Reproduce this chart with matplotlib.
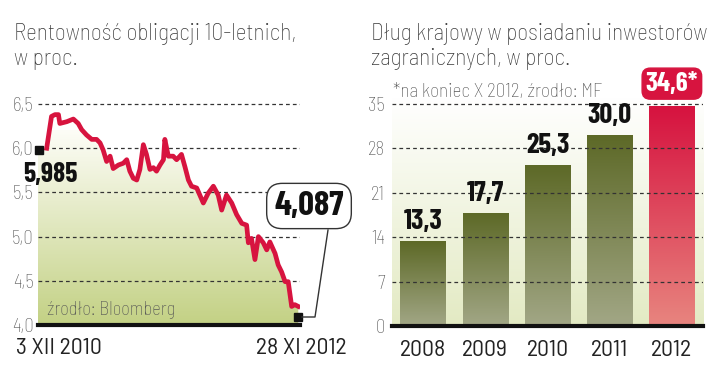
import numpy as np
import pandas as pd
import matplotlib
matplotlib.use("Agg")
import matplotlib.pyplot as plt
from matplotlib.colors import LinearSegmentedColormap

COND = ['Barlow Semi Condensed', 'Roboto', 'DejaVu Sans']
BOLD = ['Barlow Condensed', 'Roboto', 'DejaVu Sans']
plt.rcParams['font.family'] = COND

# --- lewy wykres: rentowność obligacji 10-letnich ---
start = pd.Timestamp('2010-12-03')
day_offsets = [0, 14, 24, 34, 38, 58, 77, 91, 101, 115, 130, 144, 154, 163, 173,
               183, 192, 207, 221, 231, 240, 250, 260, 269, 279, 288, 298, 308,
               317, 327, 337, 341, 351, 365, 375, 389, 399, 409, 418, 433, 452,
               466, 481, 495, 505, 519, 534, 548, 563, 577, 582, 591, 601, 611,
               625, 635, 644, 659, 668, 678, 688, 697, 707, 716, 726]
yields = [6.00, 6.36, 6.38, 6.38, 6.28, 6.30, 6.33, 6.28, 6.21, 6.15, 6.10, 6.10,
          6.06, 5.98, 5.85, 5.91, 5.77, 5.81, 5.83, 5.87, 5.74, 5.66, 5.64, 5.76,
          6.04, 5.93, 5.76, 5.78, 5.74, 5.81, 5.87, 6.10, 5.91, 5.91, 5.87, 5.93,
          5.79, 5.64, 5.57, 5.55, 5.38, 5.49, 5.57, 5.47, 5.30, 5.47, 5.38, 5.25,
          5.15, 5.13, 4.93, 4.98, 4.74, 5.00, 4.93, 4.85, 4.94, 4.81, 4.68, 4.60,
          4.49, 4.49, 4.21, 4.23, 4.21]
first_value = 5.985
last_value = 4.087
dates = start + pd.to_timedelta(day_offsets, unit='D')
yield_ticks = [4.0, 4.5, 5.0, 5.5, 6.0, 6.5]

# --- prawy wykres: dług w posiadaniu inwestorów zagranicznych ---
years = ['2008', '2009', '2010', '2011', '2012']
debt_share = [13.3, 17.7, 25.3, 30.0, 34.6]
debt_ticks = [0, 7, 14, 21, 28, 35]

RED = '#d7143f'
GRAY = '#555555'
W, H = 720, 386

fig = plt.figure(figsize=(7.2, 3.86), dpi=100)


def ax_rect(x0, x1, ytop, ybot):
    return [x0 / W, 1 - ybot / H, (x1 - x0) / W, (ybot - ytop) / H]


def vgrad(top, bottom):
    return LinearSegmentedColormap.from_list('g', [bottom, top])


def pl(v, fmt):
    return format(v, fmt).replace('.', ',')


def px_text(x, y, s, **kw):
    return fig.text(x / W, 1 - y / H, s, **kw)


grad = np.linspace(0, 1, 256).reshape(-1, 1)

# ----- lewy -----
ax1 = fig.add_axes(ax_rect(38, 300, 99.6, 325))
ax1.set_ylim(4.0, 6.55)
xl = (start - pd.Timedelta(days=25), start + pd.Timedelta(days=731))
ax1.set_xlim(xl)
for s in ax1.spines.values():
    s.set_visible(False)

fill_x = [xl[0]] + list(dates)
fill_y = [first_value] + yields
poly = ax1.fill_between(fill_x, fill_y, 4.0, color='none', lw=0)
im = ax1.imshow(grad, aspect='auto', cmap=vgrad('#fdfdf7', '#c3d184'),
                origin='lower', extent=[*map(matplotlib.dates.date2num, xl), 4.0, 6.2],
                zorder=0)
im.set_clip_path(poly.get_paths()[0], transform=ax1.transData)

for t in yield_ticks[1:]:
    ax1.axhline(t, color='#333333', lw=0.9, ls=(0, (3, 2.5)), zorder=1)
ax1.axhline(4.0, color='#111111', lw=3, zorder=3, clip_on=False)
ax1.set_yticks(yield_ticks)
ax1.set_yticklabels([pl(t, '.1f') for t in yield_ticks], fontsize=13.5,
                    color=GRAY, fontweight='light')
ax1.tick_params(axis='y', length=0, pad=3)
ax1.set_xticks([])

ax1.plot(dates, yields, color=RED, lw=3.4, solid_joinstyle='round', zorder=4)
ax1.plot([xl[0] + pd.Timedelta(days=3)], [first_value], marker='s', ms=5.5,
         color='#111111', clip_on=False, zorder=5)
ax1.plot([dates[-1]], [last_value], marker='s', ms=5.5, color='#111111',
         clip_on=False, zorder=5)
ax1.text(-0.058, 0.668, pl(first_value, '.3f'), transform=ax1.transAxes,
         fontsize=20, fontweight='bold', family=BOLD, color='#111111',
         ha='left', va='center')
ax1.text(0.035, 0.065, 'źrodło: Bloomberg', transform=ax1.transAxes,
         fontsize=13.4, color=GRAY, fontweight='light', ha='left', va='center')

# ramka z ostatnią wartością
px_text(309, 206, pl(last_value, '.3f'), fontsize=25, fontweight='bold',
        family=BOLD, color='#111111', ha='center', va='center',
        bbox=dict(boxstyle='round,pad=0.22,rounding_size=0.45', fc='white',
                  ec='#333333', lw=1.0))
fig.add_artist(plt.Line2D([328 / W, 315 / W, 302 / W],
                          [1 - 230 / H, 1 - 317 / H, 1 - 317 / H],
                          color='#333333', lw=1.0))

title_kw = dict(fontsize=16.8, color='#3a3a3a', fontweight='light',
                ha='left', va='baseline')
px_text(14, 40, 'Rentowność obligacji 10-letnich,', **title_kw)
px_text(14, 65, 'w proc.', **title_kw)
px_text(16, 348, '3 XII 2010', fontsize=17, color='#222222', ha='left', va='center')
px_text(347, 348, '28 XI 2012', fontsize=17, color='#222222', ha='right', va='center')

# ----- prawy -----
ax2 = fig.add_axes(ax_rect(392, 703, 97.6, 326))
ax2.set_ylim(0, 36)
ax2.set_xlim(-0.5, 4.5)
for s in ax2.spines.values():
    s.set_visible(False)
ax2.imshow(grad, aspect='auto', cmap=vgrad('#ffffff', '#e3eac3'), origin='lower',
           extent=[-0.5, 4.5, 0, 36], zorder=0)

bar_w = 0.73
bars = ax2.bar(range(len(years)), debt_share, width=bar_w, color='none', zorder=2)
for i, b in enumerate(bars):
    if years[i] == '2012':
        cm = vgrad('#d6123f', '#e8857f')
    else:
        cm = vgrad('#5d6927', '#a2a786')
    x0 = b.get_x()
    ax2.imshow(grad, aspect='auto', cmap=cm, origin='lower',
               extent=[x0, x0 + bar_w, 0, b.get_height()], zorder=2)
    lbl = pl(debt_share[i], '.1f')
    if years[i] == '2012':
        ax2.text(i, 38.2, lbl + '*', fontsize=19.5, fontweight='bold', family=BOLD,
                 color='white', ha='center', va='center', clip_on=False, zorder=6,
                 bbox=dict(boxstyle='round,pad=0.13,rounding_size=0.3', fc=RED,
                           ec=RED))
    else:
        ax2.text(i, debt_share[i] + 1.2, lbl, fontsize=20.5, fontweight='bold',
                 family=BOLD, color='#111111', ha='center', va='bottom', zorder=6)

for t in debt_ticks[1:]:
    ax2.axhline(t, color='#333333', lw=0.9, ls=(0, (3, 2.5)), zorder=3)
ax2.axhline(0, color='#111111', lw=3, zorder=4, clip_on=False)
ax2.set_yticks(debt_ticks)
ax2.set_yticklabels([str(t) for t in debt_ticks], fontsize=13.5, color=GRAY,
                    fontweight='light')
ax2.tick_params(axis='y', length=0, pad=5)
ax2.set_xticks(range(len(years)))
ax2.set_xticklabels(years, fontsize=17, color='#222222')
ax2.tick_params(axis='x', length=0, pad=10)
ax2.set_xlim(-0.5, 4.5)
ax2.set_ylim(0, 36)

px_text(371, 40, 'Dług krajowy w posiadaniu inwestorów', **title_kw)
px_text(371, 65, 'zagranicznych, w proc.', **title_kw)
px_text(393, 92, '*na koniec X 2012, źrodło: MF', fontsize=13.8,
        color=GRAY, fontweight='light', ha='left', va='center')

fig.savefig('out.png', dpi=100)
